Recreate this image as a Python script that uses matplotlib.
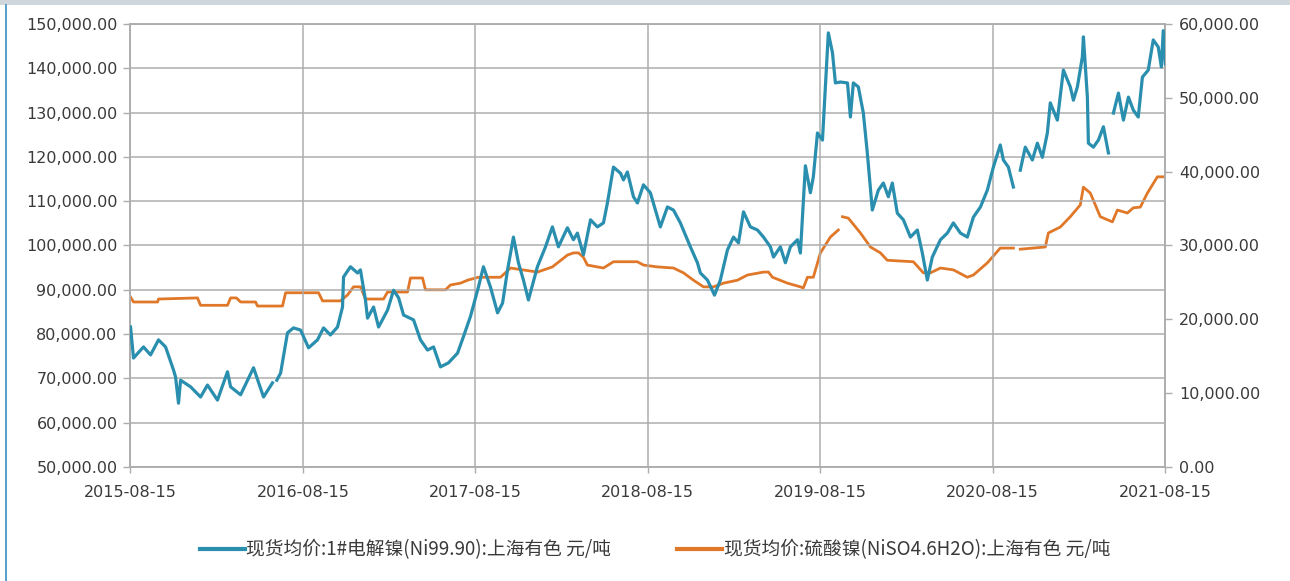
import numpy as np
import pandas as pd
import matplotlib
matplotlib.use("Agg")
import matplotlib.pyplot as plt
from matplotlib.ticker import FuncFormatter
from matplotlib.patches import Rectangle
from matplotlib.lines import Line2D

plt.rcParams['font.family'] = ['DejaVu Sans']

# 现货均价:1#电解镍, 元/吨 (time in decimal years, nan = no quote)
ni_t = [2015.622, 2015.639, 2015.697, 2015.738, 2015.784, 2015.825, 2015.871, 2015.883,
        2015.900, 2015.912, 2015.970, 2016.028, 2016.068, 2016.126, 2016.184, 2016.202,
        2016.260, 2016.335, 2016.393, 2016.445, 2016.460, 2016.470, 2016.492, 2016.532, 2016.567,
        2016.608, 2016.654, 2016.706, 2016.741, 2016.781, 2016.822, 2016.851, 2016.857,
        2016.897, 2016.938, 2016.955, 2016.984, 2016.996, 2017.031, 2017.060, 2017.112,
        2017.147, 2017.176, 2017.205, 2017.263, 2017.303, 2017.344, 2017.379, 2017.419,
        2017.465, 2017.518, 2017.552, 2017.593, 2017.639, 2017.668, 2017.709, 2017.750,
        2017.779, 2017.808, 2017.842, 2017.871, 2017.900, 2017.929, 2017.981, 2018.028,
        2018.068, 2018.103, 2018.155, 2018.190, 2018.213, 2018.248, 2018.289, 2018.329,
        2018.364, 2018.387, 2018.422, 2018.463, 2018.480, 2018.503, 2018.538, 2018.561,
        2018.596, 2018.636, 2018.677, 2018.694, 2018.735, 2018.770, 2018.810, 2018.868,
        2018.909, 2018.926, 2018.967, 2019.008, 2019.042, 2019.083, 2019.118, 2019.147,
        2019.176, 2019.216, 2019.257, 2019.292, 2019.332, 2019.350, 2019.390, 2019.419,
        2019.448, 2019.489, 2019.506, 2019.535, 2019.564, 2019.581, 2019.605, 2019.634,
        2019.668, 2019.692, 2019.709, 2019.738, 2019.779, 2019.796, 2019.813, 2019.842,
        2019.871, 2019.894, 2019.923, 2019.958, 2019.987, 2020.016, 2020.039, 2020.068,
        2020.103, 2020.144, 2020.184, 2020.213, 2020.242, 2020.271, 2020.318, 2020.358,
        2020.393, 2020.434, 2020.474, 2020.509, 2020.550, 2020.590, 2020.625, 2020.665,
        2020.683, 2020.712, 2020.741, 2020.760, 2020.781, 2020.810, 2020.851, 2020.880,
        2020.909, 2020.938, 2020.955, 2020.996, 2021.031, 2021.071, 2021.089, 2021.112,
        2021.141, 2021.147, 2021.170, 2021.176, 2021.205, 2021.234, 2021.263, 2021.292,
        2021.301, 2021.321, 2021.350, 2021.379, 2021.408, 2021.436, 2021.465, 2021.489,
        2021.523, 2021.552, 2021.581, 2021.599, 2021.610, 2021.622]
ni_v = [81600, 74600, 77100, 75300, 78700, 77100, 71900, 70300,
        64400, 69600, 68100, 65800, 68500, 65100, 71500, 68100,
        66300, 72400, 65800, 69000, np.nan, 69600, 71200, 80300, 81400,
        80900, 76900, 78700, 81400, 79800, 81600, 86100, 92900,
        95200, 93800, 94500, 87700, 83600, 86100, 81600, 85400,
        89900, 88200, 84300, 83200, 78700, 76400, 77100, 72600,
        73500, 75700, 79400, 84000, 90600, 95200, 90600, 84800,
        87000, 94500, 101900, 96100, 92200, 87700, 95200, 99700,
        104200, 99700, 104000, 101300, 102800, 97900, 105800, 104200,
        105100, 109600, 117700, 116300, 114800, 116600, 111000, 109600,
        113700, 111900, 106400, 104200, 108700, 108000, 105100, 99700,
        96100, 93800, 92200, 88800, 92200, 99000, 101900, 100600,
        107600, 104200, 103500, 101900, 99700, 97400, 99700, 96100,
        99700, 101300, 98300, 118000, 111900, 115500, 125400, 123800,
        148000, 143500, 136700, 136900, 136700, 129000, 136700, 135800,
        129900, 120900, 108000, 112500, 114100, 111000, 114100, 107300,
        105800, 101900, 103500, 98300, 92200, 97400, 101300, 102800,
        105100, 102800, 101900, 106400, 108700, 112500, 117700, 122700,
        119300, 117700, 113200, np.nan, 117000, 122200, 119300, 123100,
        119900, 125400, 132200, 128300, 139600, 135800, 132800, 135800,
        142600, 147100, 133500, 123100, 122200, 123800, 126800, 120900,
        np.nan, 129900, 134400, 128300, 133500, 130600, 129000, 138000,
        139600, 146400, 144800, 140300, 148500, 141000]

# 现货均价:硫酸镍, 元/吨
niso4_t = [2015.622, 2015.639, 2015.779, 2015.784, 2016.010, 2016.028, 2016.184, 2016.202,
           2016.236, 2016.260, 2016.347, 2016.358, 2016.503, 2016.521, 2016.712, 2016.735,
           2016.839, 2016.880, 2016.915, 2016.955, 2016.984, 2017.089, 2017.112, 2017.228,
           2017.245, 2017.315, 2017.332, 2017.448, 2017.477, 2017.535, 2017.576, 2017.639,
           2017.767, 2017.825, 2017.981, 2018.068, 2018.155, 2018.190, 2018.219, 2018.248,
           2018.271, 2018.364, 2018.422, 2018.561, 2018.596, 2018.677, 2018.770, 2018.828,
           2018.886, 2018.944, 2019.002, 2019.060, 2019.141, 2019.199, 2019.292, 2019.321,
           2019.344, 2019.431, 2019.506, 2019.523, 2019.547, 2019.581, 2019.622, 2019.680,
           2019.726, 2019.735, 2019.750, 2019.784, 2019.854, 2019.912, 2019.970, 2020.010,
           2020.161, 2020.219, 2020.260, 2020.318, 2020.393, 2020.474, 2020.509, 2020.590,
           2020.665, 2020.741, 2020.760, 2020.781, 2020.926, 2020.944, 2021.013, 2021.071,
           2021.129, 2021.147, 2021.187, 2021.245, 2021.315, 2021.344, 2021.402, 2021.436,
           2021.477, 2021.518, 2021.576, 2021.622]
niso4_v = [23000, 22350, 22350, 22750, 22900, 21900, 21900, 22900,
           22900, 22350, 22350, 21800, 21800, 23600, 23600, 22500,
           22500, 23300, 24400, 24400, 22750, 22750, 23700, 23700,
           25600, 25600, 24000, 24000, 24650, 24900, 25300, 25700,
           25700, 26950, 26400, 27100, 28700, 29000, 29000, 28400,
           27350, 26950, 27800, 27800, 27350, 27100, 26950, 26300,
           25300, 24400, 24400, 24900, 25300, 26000, 26400, 26400,
           25700, 24900, 24400, 24250, 25700, 25700, 29000, 31150,
           32100, np.nan, 33900, 33700, 31700, 29800, 29000, 28000,
           27800, 26300, 26300, 26950, 26700, 25700, 26000, 27650,
           29650, 29650, np.nan, 29500, 29800, 31700, 32500, 33900,
           35500, 37900, 37100, 33900, 33200, 34800, 34400, 35100,
           35200, 37100, 39300, 39300]

year_ticks = ['2015-08-15', '2016-08-15', '2017-08-15', '2018-08-15',
              '2019-08-15', '2020-08-15', '2021-08-15']
left_ticks = np.arange(50000, 150001, 10000)
right_ticks = np.arange(0, 60001, 10000)

ni_label = '现货均价:1#电解镍(Ni99.90):上海有色 元/吨'
niso4_label = '现货均价:硫酸镍(NiSO4.6H2O):上海有色 元/吨'

blue = '#2a8fae'
orange = '#e0782a'
grid_c = '#adadad'
text_c = '#3a3a3a'


def to_dates(t):
    t = np.asarray(t, dtype=float)
    base = pd.Timestamp('2015-01-01')
    return base + pd.to_timedelta((t - 2015.0) * 365.25, unit='D')


fig = plt.figure(figsize=(12.9, 5.81), dpi=100)
fig.patch.set_facecolor('white')

# top strip and left edge line of the panel
fig.patches.append(Rectangle((0, 1 - 5 / 581), 1, 5 / 581, transform=fig.transFigure,
                             facecolor='#cfd6dc', edgecolor='none', zorder=0))
fig.lines.append(Line2D([6 / 1290, 6 / 1290], [0, 1 - 5 / 581], transform=fig.transFigure,
                        color='#3a8fc0', lw=1.2))

ax = fig.add_axes([130 / 1290, 1 - 467 / 581, (1165 - 130) / 1290, (467 - 24) / 581])
ax2 = ax.twinx()

ax.plot(to_dates(ni_t), ni_v, color=blue, lw=2.3, zorder=3)
ax2.plot(to_dates(niso4_t), niso4_v, color=orange, lw=2.0, zorder=2)
ax.set_zorder(ax2.get_zorder() + 1)
ax.patch.set_visible(False)

xt = pd.to_datetime(year_ticks)
ax.set_xlim(xt[0], xt[-1])
ax.set_xticks(xt)
ax.set_xticklabels(year_ticks)
ax.set_ylim(50000, 150000)
ax.set_yticks(left_ticks)
ax2.set_ylim(0, 60000)
ax2.set_yticks(right_ticks)

fmt = FuncFormatter(lambda v, p: f'{v:,.2f}')
ax.yaxis.set_major_formatter(fmt)
ax2.yaxis.set_major_formatter(fmt)

ax.grid(True, color=grid_c, lw=1.1)
ax.set_axisbelow(True)

for a in (ax, ax2):
    for s in a.spines.values():
        s.set_color(grid_c)
        s.set_linewidth(1.1)
    a.tick_params(axis='both', colors=grid_c, length=5, width=1.0,
                  labelcolor=text_c, labelsize=11.5)
ax.tick_params(axis='y', pad=4)
ax2.tick_params(axis='y', pad=5)
ax.tick_params(axis='x', length=4, pad=9)

handles = [Line2D([], [], color=blue, lw=3), Line2D([], [], color=orange, lw=3)]
fig.legend(handles, [ni_label, niso4_label], loc='center', bbox_to_anchor=(655 / 1290, 1 - 550 / 581),
           ncol=2, frameon=False, handlelength=2.4, handletextpad=0.1,
           columnspacing=3.5, labelcolor=text_c,
           prop={'family': ['Noto Sans CJK SC', 'DejaVu Sans'], 'size': 13.5})

fig.savefig('out.png', dpi=100)
